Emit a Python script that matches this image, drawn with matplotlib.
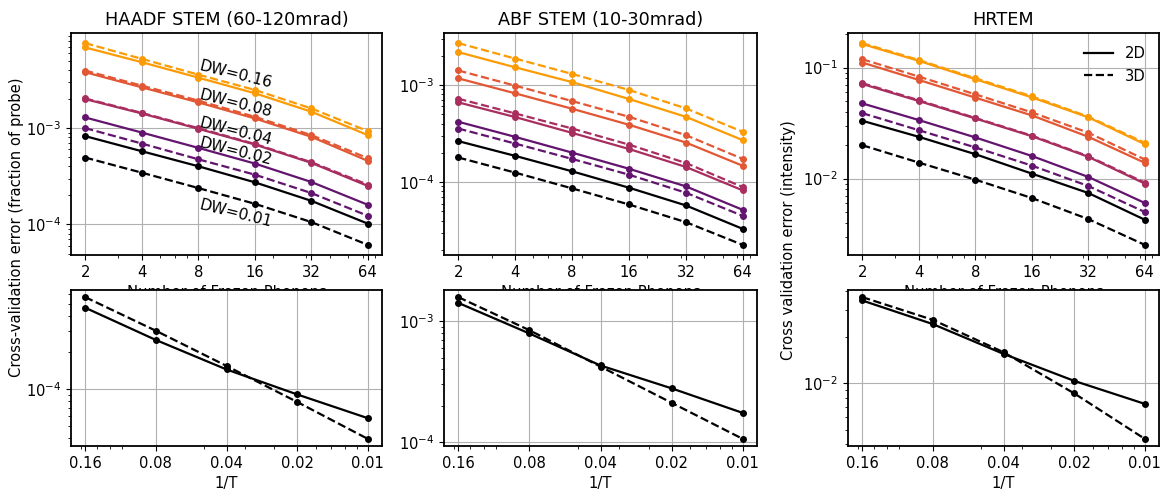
import matplotlib
matplotlib.use('Agg')
import matplotlib.pyplot as plt
import numpy as np
from matplotlib.lines import Line2D
from matplotlib.ticker import NullFormatter

# number of frozen phonons (top row)
phonons = [2, 4, 8, 16, 32, 64]
dw_labels = ['DW=0.01', 'DW=0.02', 'DW=0.04', 'DW=0.08', 'DW=0.16']

# HAADF STEM, rows follow dw_labels
haadf_2d = [[8.26e-4, 5.76e-4, 4.02e-4, 2.74e-4, 1.76e-4, 1.02e-4],
            [1.29e-3, 9.00e-4, 6.24e-4, 4.29e-4, 2.76e-4, 1.60e-4],
            [2.00e-3, 1.42e-3, 9.84e-4, 6.76e-4, 4.36e-4, 2.51e-4],
            [3.80e-3, 2.65e-3, 1.85e-3, 1.26e-3, 8.12e-4, 4.57e-4],
            [6.87e-3, 4.83e-3, 3.34e-3, 2.30e-3, 1.48e-3, 8.45e-4]]
haadf_3d = [[4.95e-4, 3.45e-4, 2.39e-4, 1.64e-4, 1.06e-4, 6.14e-5],
            [1.00e-3, 6.92e-4, 4.75e-4, 3.29e-4, 2.12e-4, 1.23e-4],
            [2.03e-3, 1.44e-3, 1.00e-3, 6.85e-4, 4.43e-4, 2.59e-4],
            [3.95e-3, 2.76e-3, 1.93e-3, 1.31e-3, 8.46e-4, 4.87e-4],
            [7.62e-3, 5.23e-3, 3.59e-3, 2.49e-3, 1.60e-3, 9.30e-4]]

# ABF STEM
abf_2d = [[2.64e-4, 1.86e-4, 1.29e-4, 8.74e-5, 5.74e-5, 3.29e-5],
          [4.18e-4, 2.92e-4, 2.01e-4, 1.37e-4, 9.02e-5, 5.17e-5],
          [6.62e-4, 4.67e-4, 3.21e-4, 2.19e-4, 1.43e-4, 8.20e-5],
          [1.17e-3, 8.20e-4, 5.69e-4, 3.89e-4, 2.55e-4, 1.47e-4],
          [2.18e-3, 1.52e-3, 1.07e-3, 7.17e-4, 4.70e-4, 2.70e-4]]
abf_3d = [[1.79e-4, 1.25e-4, 8.60e-5, 5.87e-5, 3.86e-5, 2.25e-5],
          [3.56e-4, 2.49e-4, 1.73e-4, 1.19e-4, 7.76e-5, 4.48e-5],
          [7.22e-4, 5.09e-4, 3.56e-4, 2.43e-4, 1.57e-4, 8.87e-5],
          [1.41e-3, 9.84e-4, 6.83e-4, 4.70e-4, 3.04e-4, 1.73e-4],
          [2.70e-3, 1.87e-3, 1.30e-3, 8.88e-4, 5.74e-4, 3.29e-4]]

# HRTEM
hrtem_2d = [[0.0332, 0.0238, 0.0166, 0.0111, 0.00742, 0.00426],
            [0.0476, 0.0337, 0.0235, 0.0160, 0.01035, 0.00603],
            [0.0712, 0.0500, 0.0348, 0.0241, 0.0157, 0.00901],
            [0.111, 0.0774, 0.0536, 0.0371, 0.0238, 0.01387],
            [0.163, 0.115, 0.0785, 0.0539, 0.0356, 0.0204]]
hrtem_3d = [[0.0200, 0.01395, 0.00979, 0.00669, 0.00432, 0.00253],
            [0.0389, 0.0273, 0.0191, 0.0131, 0.00858, 0.00500],
            [0.0725, 0.0508, 0.0352, 0.0244, 0.0159, 0.0092],
            [0.119, 0.0830, 0.0574, 0.0395, 0.0259, 0.01486],
            [0.166, 0.117, 0.0800, 0.0551, 0.0361, 0.0210]]

# bottom row, error vs 1/T
inv_T = [0.16, 0.08, 0.04, 0.02, 0.01]
inv_T_labels = ['0.16', '0.08', '0.04', '0.02', '0.01']
haadf_T_2d = [4.65e-4, 2.53e-4, 1.45e-4, 9.05e-5, 5.78e-5]
haadf_T_3d = [5.68e-4, 3.01e-4, 1.55e-4, 7.85e-5, 3.91e-5]
abf_T_2d = [1.42e-3, 7.92e-4, 4.30e-4, 2.78e-4, 1.74e-4]
abf_T_3d = [1.585e-3, 8.43e-4, 4.21e-4, 2.11e-4, 1.06e-4]
hrtem_T_2d = [3.48e-2, 2.44e-2, 1.56e-2, 1.04e-2, 7.36e-3]
hrtem_T_3d = [3.66e-2, 2.60e-2, 1.60e-2, 8.62e-3, 4.35e-3]

titles = ['HAADF STEM (60-120mrad)', 'ABF STEM (10-30mrad)', 'HRTEM']

plt.rcParams['font.size'] = 10.6
plt.rcParams['axes.linewidth'] = 1.3

colors = [plt.cm.inferno(v) for v in [0.0, 0.28, 0.45, 0.62, 0.78]]

W, H = 1161, 493
fig = plt.figure(figsize=(W / 100, H / 100), dpi=100)

lefts = [71, 444, 848]
widths = [311, 313, 311]

top_axes = []
for i in range(3):
    ax = fig.add_axes([lefts[i] / W, 1 - 255 / H, widths[i] / W, 222 / H])
    top_axes.append(ax)
bot_axes = []
for i in range(3):
    ax = fig.add_axes([lefts[i] / W, 1 - 446 / H, widths[i] / W, 156 / H])
    bot_axes.append(ax)

top_data = [(haadf_2d, haadf_3d), (abf_2d, abf_3d), (hrtem_2d, hrtem_3d)]
bot_data = [(haadf_T_2d, haadf_T_3d), (abf_T_2d, abf_T_3d), (hrtem_T_2d, hrtem_T_3d)]

for i, ax in enumerate(top_axes):
    d2, d3 = top_data[i]
    for k in range(5):
        ax.plot(phonons, d2[k], '-', color=colors[k], marker='o', markersize=4, lw=1.6)
        ax.plot(phonons, d3[k], '--', color=colors[k], marker='o', markersize=4, lw=1.6)
    ax.set_xscale('log')
    ax.set_yscale('log')
    ax.set_xticks(phonons)
    ax.set_xticklabels([str(p) for p in phonons])
    ax.xaxis.set_minor_formatter(NullFormatter())
    ax.yaxis.set_minor_formatter(NullFormatter())
    ax.grid(True)
    ax.set_title(titles[i], fontsize=12.7)
    ax.set_xlabel('Number of Frozen Phonons')

# DW annotations on the HAADF panel
dw_pos = [1.46e-4, 6.3e-4, 1.03e-3, 1.99e-3, 4.02e-3]
for k in range(5):
    top_axes[0].text(8, dw_pos[k], dw_labels[k], rotation=-14, rotation_mode='anchor',
                     ha='left', va='baseline', fontsize=11.2)

handles = [Line2D([], [], color='k', ls='-', lw=1.6, label='2D'),
           Line2D([], [], color='k', ls='--', lw=1.6, label='3D')]
top_axes[2].legend(handles=handles, loc='upper right', frameon=False)

T = 1 / np.array(inv_T)
for i, ax in enumerate(bot_axes):
    d2, d3 = bot_data[i]
    ax.plot(T, d2, '-', color='k', marker='o', markersize=4, lw=1.6)
    ax.plot(T, d3, '--', color='k', marker='o', markersize=4, lw=1.6)
    ax.set_xscale('log')
    ax.set_yscale('log')
    ax.set_xticks(T)
    ax.set_xticklabels(inv_T_labels)
    ax.xaxis.set_minor_formatter(NullFormatter())
    ax.yaxis.set_minor_formatter(NullFormatter())
    ax.grid(True)
    ax.set_xlabel('1/T')

fig.text(17 / W, 1 - 227 / H, 'Cross-validation error (fraction of probe)',
         rotation=90, ha='center', va='center')
fig.text(789 / W, 1 - 240 / H, 'Cross validation error (intensity)',
         rotation=90, ha='center', va='center')

fig.savefig('out.png', dpi=100)
